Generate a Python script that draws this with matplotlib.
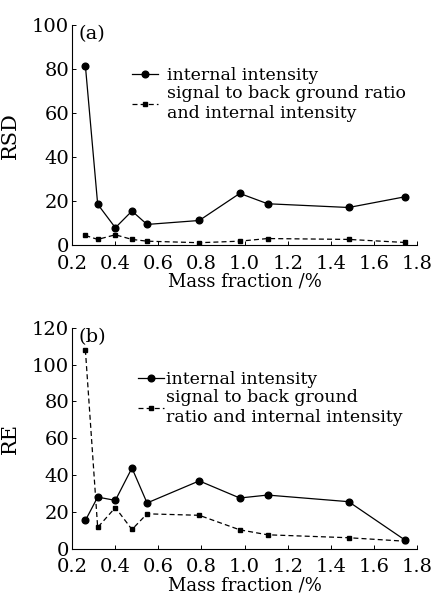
import matplotlib.pyplot as plt

plt.rcParams['font.family'] = ['DejaVu Serif']

mass = [0.262, 0.319, 0.401, 0.478, 0.548, 0.790, 0.978, 1.107, 1.483, 1.746]

rsd_internal = [81.5, 18.6, 7.9, 15.5, 9.4, 11.2, 23.5, 18.8, 17.1, 22.0]
rsd_sbr = [4.4, 2.6, 4.7, 2.6, 1.8, 1.1, 1.8, 3.0, 2.6, 1.2]

re_internal = [15.3, 28.0, 26.2, 43.8, 24.8, 36.8, 27.5, 29.1, 25.5, 4.5]
re_sbr = [108.0, 11.5, 22.3, 10.4, 18.9, 18.1, 10.2, 7.5, 5.9, 4.0]

xticks = [0.2, 0.4, 0.6, 0.8, 1.0, 1.2, 1.4, 1.6, 1.8]
xticklabels = ["0.2", "0.4", "0.6", "0.8", "1.0", "1.2", "1.4", "1.6", "1.8"]

fig = plt.figure(figsize=(4.32, 5.95), dpi=100)
ax1 = fig.add_axes([0.1667, 0.588, 0.7986, 0.370])
ax2 = fig.add_axes([0.1667, 0.078, 0.7986, 0.371])

panels = [
    (ax1, rsd_internal, rsd_sbr, "RSD", 100, [0, 20, 40, 60, 80, 100], "(a)",
     "signal to back ground ratio\nand internal intensity", (0.155, 0.84), 0.5),
    (ax2, re_internal, re_sbr, "RE", 120, [0, 20, 40, 60, 80, 100, 120], "(b)",
     "signal to back ground\nratio and internal intensity", (0.17, 0.835), 0.15),
]

for ax, y1, y2, ylab, ymax, yt, tag, lab2, anchor, tpad in panels:
    ax.plot(mass, y1, 'k-', marker='o', markersize=4.8, linewidth=0.9,
            label="internal intensity")
    ax.plot(mass, y2, 'k--', marker='s', markersize=3.4, linewidth=0.9,
            dashes=(4, 2.5), label=lab2)
    ax.set_xlim(0.2, 1.8)
    ax.set_ylim(0, ymax)
    ax.set_xticks(xticks)
    ax.set_xticklabels(xticklabels)
    ax.set_yticks(yt)
    ax.spines['top'].set_visible(False)
    ax.spines['right'].set_visible(False)
    ax.tick_params(direction='in', length=3, width=0.7, labelsize=14)
    ax.tick_params(axis='x', pad=7)
    ax.tick_params(axis='y', pad=2)
    ax.set_xlabel("Mass fraction /%", fontsize=13, labelpad=0)
    ax.set_ylabel(ylab, fontsize=15, labelpad=9)
    ax.text(0.02, 1.0, tag, transform=ax.transAxes, fontsize=14,
            ha='left', va='top')
    ax.legend(loc='upper left', bbox_to_anchor=anchor, frameon=False,
              fontsize=12.5, handlelength=1.5, handletextpad=tpad,
              labelspacing=0.05, borderaxespad=0)

fig.savefig("out.png", dpi=100)
